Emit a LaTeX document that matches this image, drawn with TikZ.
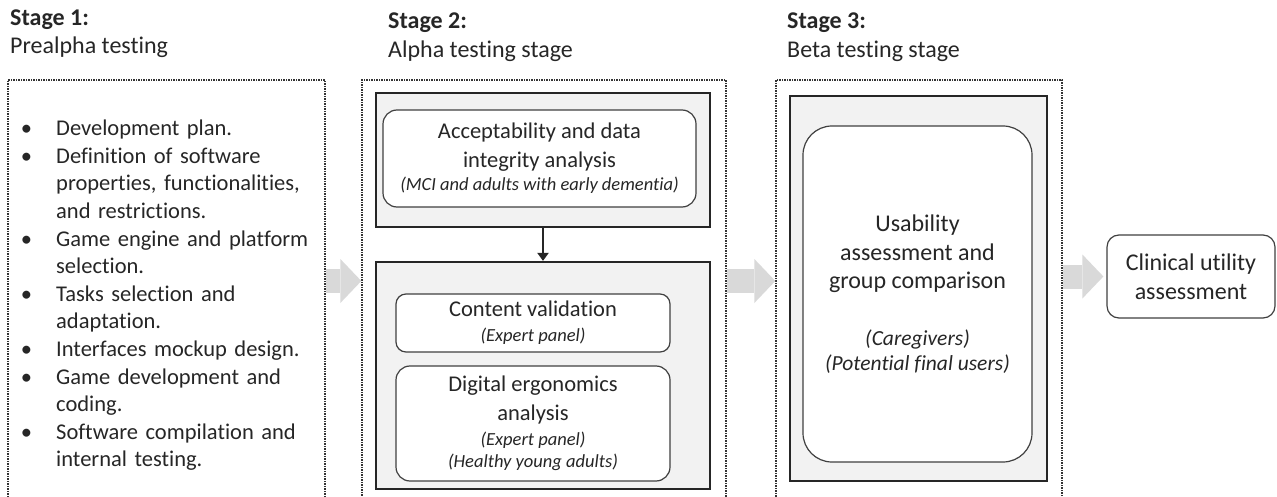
\documentclass[tikz,border=0pt]{standalone}
\usepackage{fontspec}
\setmainfont[Ligatures=NoCommon]{Carlito}
\usepackage{enumitem}
\usetikzlibrary{arrows.meta}

\definecolor{panelgray}{HTML}{F2F2F2}
\definecolor{arrowgray}{HTML}{D9D9D9}
\definecolor{inkgray}{HTML}{262626}
\definecolor{edgegray}{HTML}{404040}

\newcommand{\bodyfont}{\fontsize{22.5}{28.5}\selectfont}
\newcommand{\listfont}{\fontsize{22.5}{27.6}\selectfont}
\newcommand{\titlefont}{\fontsize{24}{29}\selectfont}
\newcommand{\bigfont}{\fontsize{24}{28.5}\selectfont}
\newcommand{\notefont}{\fontsize{18.5}{22}\selectfont\itshape}
\newcommand{\bignote}{\fontsize{21.5}{25}\selectfont\itshape}

\begin{document}
\begin{tikzpicture}[x=1pt, y=-1pt,
		stageframe/.style={draw=black!80, line width=1.3pt, dash pattern=on 1.4pt off 1.1pt, inner sep=0pt},
		panel/.style={draw=inkgray, line width=2.2pt, fill=panelgray, inner sep=0pt},
		card/.style={draw=edgegray, line width=1.2pt, fill=white, rounded corners=#1, align=center, inner sep=0pt, text=inkgray, font=\bodyfont},
		card/.default=14pt,
		flowarrow/.style={draw=arrowgray, line width=24pt, -{Triangle[length=21pt, width=44pt, line width=0pt]}},
		title/.style={anchor=base west, inner sep=0pt, text=inkgray, font=\titlefont}]
	\useasboundingbox (0,0) rectangle (1277,497);

	\node[title] (t1) at (10,26) {\textbf{Stage 1:}};
	\node[title] (t1b) at (10,54) {Prealpha testing};
	\node[title] (t2) at (388,29) {\textbf{Stage 2:}};
	\node[title] (t2b) at (388,58) {Alpha testing stage};
	\node[title] (t3) at (787,29) {\textbf{Stage 3:}};
	\node[title] (t3b) at (787,58) {Beta testing stage};

	\node[stageframe, minimum width=317pt, minimum height=440pt] (s1) at (166.5,300) {};
	\node[stageframe, minimum width=364pt, minimum height=440pt] (s2) at (544,300) {};
	\node[stageframe, minimum width=286pt, minimum height=440pt] (s3) at (919,300) {};

	\node[anchor=north west, inner sep=0pt, text width=310pt, align=left, text=inkgray, font=\listfont] (tasks) at (10,108) {%
		\begin{itemize}[leftmargin=46pt, labelsep=24pt, itemsep=0pt, topsep=0pt, parsep=0pt, partopsep=0pt, label=\textbullet]
			\item Development plan.
			\item Definition of software\newline properties, functionalities,\newline and restrictions.
			\item Game engine and platform\newline selection.
			\item Tasks selection and\newline adaptation.
			\item Interfaces mockup design.
			\item Game development and\newline coding.
			\item Software compilation and\newline internal testing.
		\end{itemize}};

	\node[panel, minimum width=334pt, minimum height=134pt] (p2a) at (543,160) {};
	\node[card, minimum width=313pt, minimum height=97pt] (acc) at (539.5,158.5)
		{Acceptability and data\\integrity analysis\\[-5pt]{\notefont (MCI and adults with early dementia)}};
	\node[panel, minimum width=334pt, minimum height=227pt] (p2b) at (543,375.5) {};
	\node[card=10pt, minimum width=274pt, minimum height=58pt] (cont) at (533,323)
		{Content validation\\[-3.5pt]{\notefont (Expert panel)}};
	\node[card, minimum width=274pt, minimum height=115pt] (ergo) at (533,423.5)
		{Digital ergonomics\\analysis\\[-3.5pt]{\notefont (Expert panel)}\\[-6.5pt]{\notefont (Healthy young adults)}};
	\draw[line width=2.2pt, draw=inkgray, -{Triangle[length=8pt, width=11pt]}] (p2a) -- (p2b);

	\node[panel, minimum width=257pt, minimum height=385pt] (p3) at (918.5,288.5) {};
	\node[card=29pt, minimum width=229pt, minimum height=336pt, font=\bigfont] (usab) at (917.5,294)
		{Usability\\assessment and\\group comparison\\[28pt]{\bignote (Caregivers)}\\[-3.5pt]{\bignote (Potential final users)}};

	\node[card=12pt, minimum width=168pt, minimum height=83pt, font=\fontsize{24}{29}\selectfont] (clin) at (1191,276.5)
		{Clinical utility\\assessment};

	\coordinate (m) at (0,281);
	\draw[flowarrow] (s1.east |- m) -- (s2.west |- m);
	\draw[flowarrow] (s2.east |- m) -- (s3.west |- m);
	\draw[flowarrow, shorten >=3pt] (s3.east |- clin.west) -- (clin.west);
\end{tikzpicture}
\end{document}
